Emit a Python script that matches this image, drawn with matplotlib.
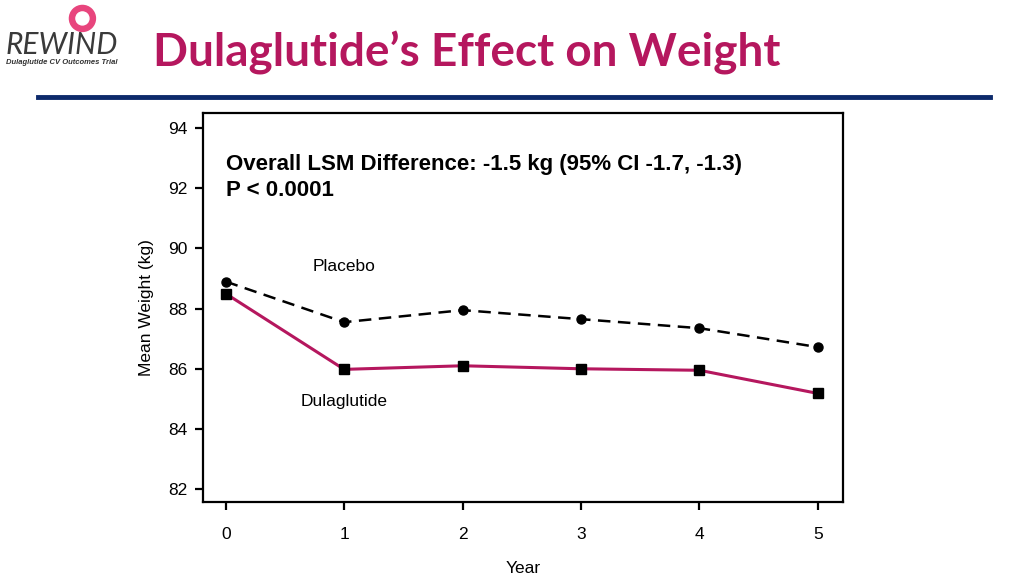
import matplotlib
matplotlib.use('Agg')
import matplotlib.pyplot as plt
from matplotlib.patches import Ellipse

# data
years = [0, 1, 2, 3, 4, 5]
placebo = [88.9, 87.55, 87.95, 87.65, 87.35, 86.72]
dulaglutide = [88.5, 85.98, 86.1, 86.0, 85.95, 85.18]
y_ticks = [82, 84, 86, 88, 90, 92, 94]

pink = '#B5175E'
navy = '#0D2A6B'
plt.rcParams['font.family'] = ['Liberation Sans', 'DejaVu Sans']

fig = plt.figure(figsize=(10.24, 5.76), dpi=100)

# header
fig.text(0.456, 0.908, 'Dulaglutide\u2019s Effect on Weight', color=pink,
         fontsize=33, fontweight='bold', family=['Lato', 'DejaVu Sans'],
         ha='center', va='center')
fig.add_artist(plt.Line2D([0.037, 0.967], [0.831, 0.831], color=navy,
                          lw=3.5, transform=fig.transFigure))

# logo
fig.text(0.005, 0.922, 'REWIND', fontsize=21.5, style='italic', color='#3a3a3a',
         family=['Lato', 'DejaVu Sans'], va='center')
fig.text(0.006, 0.891, 'Dulaglutide CV Outcomes Trial', fontsize=5.5,
         style='italic', fontweight='bold', color='#333333', va='center')
fig.add_artist(Ellipse((0.0805, 0.968), 26 / 1024, 26 / 576,
                       transform=fig.transFigure, color='#E8457D'))
fig.add_artist(Ellipse((0.0805, 0.968), 13 / 1024, 13 / 576,
                       transform=fig.transFigure, color='white'))

ax = fig.add_axes([0.198, 0.1285, 0.625, 0.675])
ax.plot(years, placebo, color='black', lw=1.8, ls=(0, (5, 3)),
        marker='o', ms=6.5)
ax.plot(years, dulaglutide, color=pink, lw=2.2, marker='s', ms=7,
        mfc='black', mec='black')

ax.set_xlim(-0.194, 5.21)
ax.set_ylim(81.57, 94.5)
ax.set_xticks(years)
ax.set_yticks(y_ticks)
for s in ax.spines.values():
    s.set_linewidth(1.6)
ax.tick_params(direction='out', width=1.6, length=6, labelsize=12.5,
               colors='black', pad=5)
ax.tick_params(axis='x', pad=12)
ax.set_xlabel('Year', fontsize=12.5, labelpad=14)
ax.set_ylabel('Mean Weight (kg)', fontsize=12.5, labelpad=10)

ax.text(0, 92.8, 'Overall LSM Difference: -1.5 kg (95% CI -1.7, -1.3)',
        fontsize=16, fontweight='bold', va='center')
ax.text(0, 91.92, 'P < 0.0001', fontsize=16, fontweight='bold', va='center')
ax.text(1.0, 89.4, 'Placebo', fontsize=12.5, ha='center', va='center')
ax.text(1.0, 84.9, 'Dulaglutide', fontsize=12.5, ha='center', va='center')

fig.savefig('out.png', dpi=100)
